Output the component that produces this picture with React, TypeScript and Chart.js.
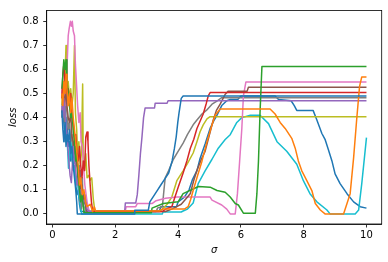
import React, { useEffect, useRef } from 'react';
import { Chart, registerables } from 'chart.js';

Chart.register(...registerables);

type P = [number, number];

const xTickValues = [0, 2, 4, 6, 8, 10];
const yTickValues = [0, 0.1, 0.2, 0.3, 0.4, 0.5, 0.6, 0.7, 0.8];

const blueA: P[] = [
  [0.3, 0.43], [0.33, 0.35], [0.36, 0.3], [0.4, 0.38], [0.43, 0.28], [0.47, 0.33], [0.5, 0.3], [0.54, 0.35],
  [0.58, 0.25], [0.62, 0.28], [0.66, 0.2], [0.7, 0.15], [0.74, 0.1], [0.77, 0.05], [0.79, 0.0], [2.6, 0.0],
  [2.62, 0.015], [3.05, 0.015], [3.1, 0.05], [3.2, 0.07], [3.35, 0.1], [3.45, 0.12], [3.6, 0.15], [3.7, 0.17],
  [3.81, 0.22], [3.88, 0.27], [3.94, 0.32], [3.99, 0.38], [4.03, 0.42], [4.1, 0.48], [4.16, 0.49], [10, 0.49],
];

const orange: P[] = [
  [0.3, 0.5], [0.33, 0.45], [0.36, 0.55], [0.4, 0.5], [0.43, 0.58], [0.46, 0.52], [0.5, 0.45], [0.54, 0.5],
  [0.58, 0.42], [0.62, 0.48], [0.66, 0.4], [0.7, 0.35], [0.74, 0.3], [0.78, 0.25], [0.82, 0.2], [0.86, 0.12],
  [0.9, 0.15], [0.95, 0.08], [1.0, 0.1], [1.05, 0.05], [1.1, 0.03], [1.2, 0.04], [1.28, 0.01], [1.33, 0.03],
  [1.37, 0.012], [3.4, 0.012], [3.5, 0.02], [4.2, 0.02], [4.32, 0.03], [4.4, 0.06], [4.48, 0.097], [4.6, 0.15],
  [4.76, 0.219], [4.92, 0.3], [5.08, 0.37], [5.18, 0.41], [5.34, 0.436], [6.93, 0.436], [7.09, 0.415],
  [7.25, 0.38], [7.41, 0.355], [7.62, 0.314], [7.73, 0.273], [7.83, 0.22], [7.94, 0.179], [8.1, 0.138],
  [8.26, 0.097], [8.37, 0.043], [8.53, 0.016], [8.68, 0], [9.27, 0], [9.38, 0.043], [9.48, 0.084],
  [9.59, 0.233], [9.69, 0.395], [9.78, 0.53], [9.85, 0.569], [10, 0.569],
];

const green: P[] = [
  [0.3, 0.52], [0.33, 0.58], [0.36, 0.64], [0.4, 0.6], [0.43, 0.64], [0.46, 0.55], [0.5, 0.5], [0.54, 0.45],
  [0.58, 0.4], [0.62, 0.42], [0.66, 0.35], [0.7, 0.3], [0.74, 0.22], [0.78, 0.25], [0.82, 0.15], [0.86, 0.1],
  [0.9, 0.05], [0.94, 0.08], [0.98, 0.03], [1.0, 0.005], [3.15, 0.005], [3.17, 0.024], [3.53, 0.043],
  [4.0, 0.05], [4.16, 0.084], [4.65, 0.114], [5.02, 0.111], [5.24, 0.097], [5.5, 0.09], [5.66, 0.07],
  [5.82, 0.043], [5.92, 0.037], [6.08, 0.003], [6.46, 0.003], [6.51, 0.084], [6.56, 0.219], [6.61, 0.422],
  [6.67, 0.612], [10, 0.612],
];

const red: P[] = [
  [0.3, 0.48], [0.33, 0.58], [0.36, 0.62], [0.4, 0.55], [0.43, 0.58], [0.47, 0.5], [0.5, 0.52], [0.54, 0.45],
  [0.58, 0.5], [0.62, 0.4], [0.66, 0.38], [0.7, 0.3], [0.74, 0.33], [0.78, 0.25], [0.82, 0.22], [0.86, 0.28],
  [0.9, 0.2], [0.94, 0.15], [0.98, 0.22], [1.02, 0.18], [1.06, 0.32], [1.1, 0.34], [1.13, 0.3], [1.16, 0.2],
  [1.2, 0.12], [1.24, 0.05], [1.28, 0.01], [3.5, 0.01], [3.6, 0.02], [3.8, 0.03], [3.9, 0.07], [4.0, 0.11],
  [4.16, 0.17], [4.28, 0.22], [4.39, 0.273], [4.5, 0.31], [4.6, 0.355], [4.7, 0.385], [4.8, 0.415],
  [4.9, 0.46], [4.96, 0.49], [5.02, 0.504], [10, 0.504],
];

const purple: P[] = [
  [0.3, 0.45], [0.33, 0.4], [0.36, 0.48], [0.4, 0.42], [0.44, 0.35], [0.48, 0.3], [0.52, 0.22], [0.56, 0.16],
  [0.6, 0.13], [0.63, 0.2], [0.66, 0.28], [0.7, 0.22], [0.74, 0.18], [0.78, 0.12], [0.82, 0.15], [0.86, 0.08],
  [0.9, 0.1], [0.95, 0.06], [1.0, 0.05], [1.05, 0.06], [1.1, 0.02], [1.15, 0.01], [2.3, 0.01], [2.32, 0.045],
  [2.65, 0.045], [2.7, 0.08], [2.75, 0.16], [2.8, 0.25], [2.85, 0.32], [2.9, 0.4], [2.95, 0.44], [3.25, 0.44],
  [3.27, 0.46], [3.65, 0.46], [3.68, 0.47], [10, 0.47],
];

const brown: P[] = [
  [0.3, 0.42], [0.34, 0.5], [0.38, 0.45], [0.42, 0.52], [0.46, 0.45], [0.5, 0.4], [0.54, 0.38], [0.58, 0.42],
  [0.62, 0.32], [0.66, 0.3], [0.7, 0.25], [0.74, 0.28], [0.78, 0.2], [0.82, 0.15], [0.86, 0.18], [0.9, 0.1],
  [0.94, 0.12], [0.98, 0.06], [1.02, 0.08], [1.06, 0.03], [1.1, 0.01], [3.6, 0.01], [3.8, 0.02], [4.1, 0.04],
  [4.3, 0.07], [4.39, 0.085], [4.5, 0.14], [4.6, 0.18], [4.75, 0.23], [4.86, 0.26], [5.0, 0.33], [5.12, 0.39],
  [5.22, 0.43], [5.34, 0.456], [5.5, 0.497], [5.6, 0.51], [6.2, 0.51], [6.24, 0.526], [10, 0.526],
];

const pink: P[] = [
  [0.3, 0.5], [0.33, 0.55], [0.36, 0.47], [0.4, 0.52], [0.43, 0.45], [0.46, 0.6], [0.5, 0.74], [0.53, 0.77],
  [0.57, 0.8], [0.6, 0.78], [0.63, 0.8], [0.66, 0.76], [0.7, 0.74], [0.73, 0.62], [0.76, 0.55], [0.8, 0.45],
  [0.84, 0.38], [0.88, 0.42], [0.91, 0.3], [0.95, 0.28], [0.99, 0.2], [1.03, 0.12], [1.07, 0.08], [1.1, 0.05],
  [1.15, 0.02], [1.2, 0.005], [2.3, 0.005], [2.35, 0.03], [2.65, 0.03], [2.7, 0.043], [3.17, 0.043],
  [3.3, 0.055], [3.6, 0.065], [3.96, 0.07], [5.02, 0.07], [5.08, 0.057], [5.39, 0.037], [5.55, 0.02],
  [5.66, 0], [5.82, 0], [5.89, 0.084], [5.96, 0.219], [6.03, 0.355], [6.08, 0.49], [6.16, 0.548], [10, 0.548],
];

const gray: P[] = [
  [0.3, 0.4], [0.34, 0.45], [0.38, 0.38], [0.42, 0.48], [0.46, 0.42], [0.5, 0.35], [0.54, 0.38], [0.58, 0.3],
  [0.62, 0.33], [0.66, 0.25], [0.7, 0.28], [0.74, 0.2], [0.78, 0.22], [0.82, 0.12], [0.86, 0.2], [0.88, 0.05],
  [0.9, 0.18], [0.92, 0.02], [0.95, 0.15], [0.98, 0.03], [1.02, 0.08], [1.06, 0.01], [3.3, 0.01],
  [3.35, 0.025], [3.5, 0.03], [3.55, 0.1], [3.59, 0.15], [3.7, 0.18], [3.85, 0.227], [4.0, 0.26],
  [4.16, 0.294], [4.3, 0.33], [4.48, 0.37], [4.6, 0.39], [4.76, 0.415], [4.9, 0.43], [5.08, 0.456],
  [5.25, 0.47], [5.39, 0.483], [10, 0.483],
];

const olive: P[] = [
  [0.3, 0.45], [0.33, 0.55], [0.36, 0.5], [0.4, 0.58], [0.43, 0.7], [0.46, 0.52], [0.5, 0.55], [0.54, 0.48],
  [0.58, 0.52], [0.62, 0.45], [0.66, 0.5], [0.7, 0.7], [0.73, 0.42], [0.77, 0.35], [0.8, 0.25], [0.84, 0.3],
  [0.88, 0.2], [0.92, 0.25], [0.96, 0.54], [0.98, 0.2], [1.02, 0.18], [1.06, 0.25], [1.1, 0.15], [1.15, 0.16],
  [1.2, 0.14], [1.25, 0.15], [1.3, 0.06], [1.35, 0.012], [3.4, 0.012], [3.5, 0.02], [3.65, 0.04], [3.8, 0.07],
  [3.96, 0.138], [4.16, 0.179], [4.3, 0.21], [4.48, 0.253], [4.6, 0.3], [4.7, 0.341], [4.8, 0.37],
  [4.92, 0.395], [5.02, 0.404], [10, 0.404],
];

const cyan: P[] = [
  [0.3, 0.48], [0.33, 0.5], [0.36, 0.42], [0.4, 0.45], [0.43, 0.35], [0.47, 0.3], [0.51, 0.19], [0.55, 0.25],
  [0.59, 0.3], [0.63, 0.22], [0.67, 0.2], [0.71, 0.18], [0.75, 0.12], [0.79, 0.15], [0.83, 0.08], [0.87, 0.05],
  [0.9, 0.02], [0.93, 0.0], [3.5, 0.0], [3.52, 0.008], [4.1, 0.008], [4.16, 0.012], [4.3, 0.02], [4.48, 0.045],
  [4.64, 0.126], [4.86, 0.179], [5.08, 0.227], [5.28, 0.273], [5.5, 0.309], [5.66, 0.329], [5.87, 0.38],
  [6.03, 0.4], [6.3, 0.41], [6.61, 0.41], [6.88, 0.375], [7.15, 0.3], [7.46, 0.26], [7.78, 0.206],
  [7.99, 0.138], [8.2, 0.084], [8.42, 0.05], [8.74, 0.016], [8.84, 0], [9.64, 0], [9.75, 0.016],
  [9.85, 0.126], [10, 0.317],
];

const blueB: P[] = [
  [0.3, 0.4], [0.33, 0.45], [0.36, 0.38], [0.4, 0.3], [0.43, 0.4], [0.47, 0.35], [0.5, 0.28], [0.54, 0.3],
  [0.58, 0.22], [0.62, 0.25], [0.66, 0.18], [0.7, 0.2], [0.74, 0.12], [0.78, 0.08], [0.82, 0.1], [0.86, 0.04],
  [0.9, 0.01], [3.4, 0.01], [3.45, 0.03], [3.95, 0.03], [4.0, 0.05], [4.2, 0.07], [4.35, 0.1], [4.45, 0.14],
  [4.6, 0.18], [4.7, 0.23], [4.86, 0.29], [5.02, 0.355], [5.15, 0.39], [5.24, 0.41], [5.39, 0.45],
  [5.55, 0.47], [5.66, 0.475], [5.9, 0.475], [6.0, 0.49], [7.09, 0.49], [7.2, 0.475], [7.6, 0.47],
  [7.7, 0.45], [7.78, 0.43], [8.3, 0.43], [8.42, 0.39], [8.58, 0.334], [8.68, 0.31], [8.78, 0.27],
  [8.9, 0.22], [9.0, 0.166], [9.16, 0.126], [9.38, 0.084], [9.59, 0.05], [9.8, 0.03], [10, 0.024],
];

const seriesList: P[][] = [blueA, orange, green, red, purple, brown, pink, gray, olive, cyan, blueB];
const seriesColors = [
  '#1f77b4', '#ff7f0e', '#2ca02c', '#d62728', '#9467bd',
  '#8c564b', '#e377c2', '#7f7f7f', '#bcbd22', '#17becf', '#1f77b4',
];

const FONT = 'DejaVu Sans';

export default function App() {
  const ref = useRef<HTMLCanvasElement>(null);

  useEffect(() => {
    document.body.style.margin = '0';
    const canvas = ref.current;
    if (!canvas) return;

    const frame = {
      id: 'frame',
      afterDatasetsDraw(chart: any) {
        const { left, top, right, bottom } = chart.chartArea;
        const c = chart.ctx;
        c.save();
        c.strokeStyle = '#000';
        c.lineWidth = 0.8;
        c.strokeRect(left, top, right - left, bottom - top);
        c.restore();
      },
    };

    const chart = new Chart(canvas, {
      type: 'line',
      data: {
        datasets: seriesList.map((s, i) => ({
          data: s.map(([x, y]) => ({ x, y })),
          borderColor: seriesColors[i],
          backgroundColor: seriesColors[i],
          borderWidth: 1.5,
          pointRadius: 0,
          fill: false,
          tension: 0,
          borderJoinStyle: 'round' as const,
        })),
      },
      options: {
        responsive: false,
        animation: false,
        devicePixelRatio: 1,
        layout: { padding: { left: 0, top: 6, right: 6.3, bottom: 0 } },
        plugins: { legend: { display: false }, tooltip: { enabled: false } },
        scales: {
          x: {
            type: 'linear',
            min: -0.185,
            max: 10.485,
            afterBuildTicks: (s: any) => {
              s.ticks = xTickValues.map((v) => ({ value: v }));
            },
            afterFit: (s: any) => {
              s.height = 38;
            },
            ticks: {
              font: { family: FONT, size: 10 },
              color: '#000',
              padding: 2,
              maxRotation: 0,
              callback: (v: any) => String(v),
            },
            grid: { drawOnChartArea: false, drawTicks: true, tickLength: 3.5, color: '#000', lineWidth: 0.8 },
            border: { display: true, color: '#000', width: 0.8 },
            title: {
              display: true,
              text: 'σ',
              color: '#000',
              font: { family: FONT, size: 10, style: 'italic' },
              padding: { top: 0, bottom: 6 },
            },
          },
          y: {
            type: 'linear',
            min: -0.042,
            max: 0.845,
            afterBuildTicks: (s: any) => {
              s.ticks = yTickValues.map((v) => ({ value: v }));
            },
            afterFit: (s: any) => {
              s.width = 46.7;
            },
            ticks: {
              font: { family: FONT, size: 10 },
              color: '#000',
              padding: 4.5,
              callback: (v: any) => Number(v).toFixed(1),
            },
            grid: { drawOnChartArea: false, drawTicks: true, tickLength: 3.5, color: '#000', lineWidth: 0.8 },
            border: { display: true, color: '#000', width: 0.8 },
            title: {
              display: true,
              text: 'loss',
              color: '#000',
              font: { family: FONT, size: 10, style: 'italic' },
              padding: { top: 7, bottom: 0 },
            },
          },
        },
      },
      plugins: [frame],
    });

    return () => chart.destroy();
  }, []);

  return (
    <div style={{ width: 388, height: 262 }}>
      <canvas ref={ref} width={388} height={262} style={{ width: 388, height: 262, display: 'block' }} />
    </div>
  );
}
